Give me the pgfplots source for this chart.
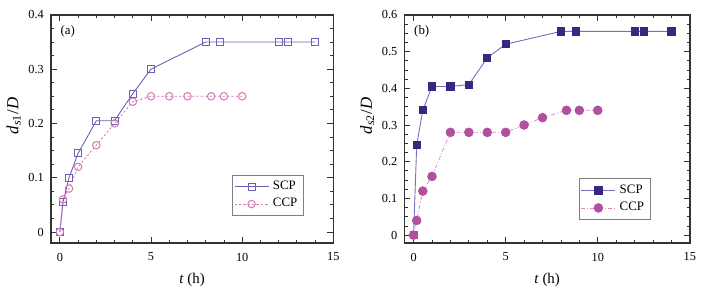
\documentclass[border=0pt]{standalone}
\usepackage{fontspec}
\setmainfont{Liberation Serif}
\usepackage{pgfplots}
\pgfplotsset{compat=1.18}
\definecolor{aS}{RGB}{110,95,180}
\definecolor{aC}{RGB}{212,120,184}
\definecolor{bSm}{RGB}{58,37,128}
\definecolor{bSl}{RGB}{122,108,192}
\definecolor{bCm}{RGB}{176,80,159}
\definecolor{bCl}{RGB}{216,144,200}
\pgfplotsset{
  myax/.style={
    scale only axis, width=142.5pt, height=115pt,
    xmin=-0.5, xmax=15,
    xtick={0,5,10,15}, minor x tick num=4, minor y tick num=3,
    tick align=inside,
    major tick length=3pt, minor tick length=1.6pt,
    axis line style={draw=black!80, line width=0.75pt},
    every tick/.style={black!80, line width=0.4pt},
    /pgf/number format/assume math mode=true,
    tick label style={font=\fontsize{6.2}{7}\selectfont},
    xticklabel style={yshift=-1.5pt},
    xlabel style={font=\fontsize{7.5}{8}\selectfont, yshift=1pt},
    ylabel style={font=\fontsize{8.5}{9}\selectfont, yshift=-3pt, xshift=6.5pt},
    xlabel={\textit{t} (h)},
    legend style={draw=black!50, line width=0.4pt, font=\fontsize{6.5}{7}\selectfont,
      inner sep=1pt, row sep=-1pt, legend cell align=left},
    yticklabel style={/pgf/number format/fixed, /pgf/number format/precision=2},
  }
}
\begin{document}
\begin{tikzpicture}
\path (0,0) rectangle (353.5pt,144.5pt);
\begin{axis}[myax, at={(22.5pt,22pt)}, anchor=south west,
  ymin=-0.02, ymax=0.4, ytick={0,0.1,0.2,0.3,0.4},
  ylabel={\textit{d}\textsubscript{\textit{s}1}/\textit{D}},
  legend style={at={(0.895,0.117)}, anchor=south east},
  ]
\addplot[color=aS, line width=0.45pt, mark=square, mark size=1.8pt, mark options={solid, line width=0.5pt}] coordinates {
(0,0) (0.17,0.055) (0.5,0.1) (1,0.145) (2,0.205) (3,0.205) (4,0.255) (5,0.3) (8,0.35) (8.8,0.35) (12,0.35) (12.5,0.35) (14,0.35)};
\addlegendentry{SCP}
\addplot[color=aC, line width=0.4pt, dash pattern=on 1.2pt off 1pt, mark=o, mark size=1.9pt, mark options={solid, line width=0.5pt}] coordinates {
(0,0) (0.17,0.06) (0.5,0.08) (1,0.12) (2,0.16) (3,0.2) (4,0.24) (5,0.25) (6,0.25) (7,0.25) (8.3,0.25) (9,0.25) (10,0.25)};
\addlegendentry{CCP}
\node[anchor=north west, font=\fontsize{6.5}{7}\selectfont] at (axis description cs:0.01,0.985) {(a)};
\end{axis}
\begin{axis}[myax, at={(200.85pt,22pt)}, anchor=south west, width=144pt,
  ymin=-0.021, ymax=0.6, ytick={0,0.1,0.2,0.3,0.4,0.5,0.6},
  ylabel={\textit{d}\textsubscript{\textit{s}2}/\textit{D}},
  legend style={at={(0.862,0.1)}, anchor=south east},
  ]
\addplot[color=bSl, line width=0.45pt, mark=square*, mark size=1.8pt, mark options={solid, fill=bSm, draw=bSm}] coordinates {
(0,0) (0.17,0.245) (0.5,0.34) (1,0.405) (2,0.405) (3,0.41) (4,0.483) (5,0.52) (8,0.555) (8.8,0.555) (12,0.555) (12.5,0.555) (14,0.555)};
\addlegendentry{SCP}
\addplot[color=bCl, line width=0.4pt, dash pattern=on 2pt off 1pt on 0.5pt off 1pt, mark=*, mark size=2.2pt, mark options={solid, fill=bCm, draw=bCm}] coordinates {
(0,0) (0.17,0.04) (0.5,0.12) (1,0.16) (2,0.28) (3,0.28) (4,0.28) (5,0.28) (6,0.3) (7,0.32) (8.3,0.34) (9,0.34) (10,0.34)};
\addlegendentry{CCP}
\addplot[only marks, mark=square*, mark size=1.8pt, color=bCm] coordinates {(0,0)};
\node[anchor=north west, font=\fontsize{6.5}{7}\selectfont] at (axis description cs:0.01,0.985) {(b)};
\end{axis}
\end{tikzpicture}
\end{document}
